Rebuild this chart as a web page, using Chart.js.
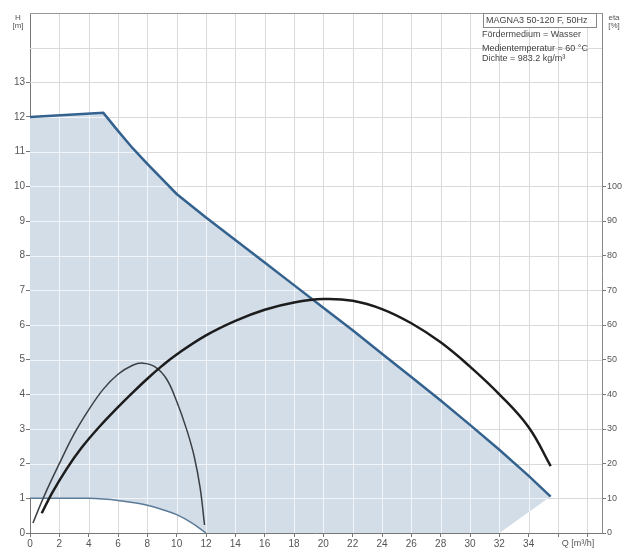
<!DOCTYPE html>
<html>
<head>
<meta charset="utf-8">
<script src="https://cdn.jsdelivr.net/npm/chart.js@4"></script>
<style>
    html, body { margin: 0; padding: 0; background: #fff; }
    canvas { display: block; }
</style>
</head>
<body>
<canvas id="pump-chart" width="626" height="557"></canvas>
<script>
// Pump curve data (Q in m3/h, H in m, eta in %)
const flowMax = [0, 5, 6, 7, 8, 10, 12, 14, 16, 18, 20, 22, 24, 26, 28, 30, 32, 34, 35.5];
const headMax = [12.0, 12.12, 11.6, 11.1, 10.65, 9.78, 9.1, 8.45, 7.8, 7.15, 6.5, 5.85, 5.17, 4.5, 3.82, 3.12, 2.4, 1.65, 1.05];

const flowMin = [0, 2, 4, 5, 6, 7, 8, 9, 10, 11, 12];
const headMin = [1.0, 1.0, 1.0, 0.98, 0.94, 0.88, 0.8, 0.68, 0.53, 0.3, 0];

// lower edge of the operating area
const flowBase = [0, 2, 4, 5, 6, 7, 8, 9, 10, 11, 12, 32, 35.5];
const headBase = [1.0, 1.0, 1.0, 0.98, 0.94, 0.88, 0.8, 0.68, 0.53, 0.3, 0, 0, 1.05];

const flowEtaSmall = [0.2, 1, 2, 3, 4, 5, 6, 7, 7.7, 8.5, 9.3, 10, 10.7, 11.2, 11.6, 11.9];
const etaSmall = [2.9, 11, 20, 28.5, 35.5, 41.5, 45.8, 48.4, 49, 48, 44.5, 38, 29.6, 22, 13, 2.3];

const flowEtaLarge = [0.8, 1.5, 2.5, 3.5, 4.7, 6, 7, 8, 9, 10, 12, 14, 16, 18, 20, 22, 24, 26, 28, 30, 32, 34, 35.5];
const etaLarge = [5.7, 11.5, 18.5, 24.5, 30.5, 36.3, 40.5, 44.5, 48.2, 51.5, 57, 61.2, 64.4, 66.5, 67.5, 67, 64.6, 60.5, 55, 48, 40, 30.5, 19.3];

const xTickLabels = [0, 2, 4, 6, 8, 10, 12, 14, 16, 18, 20, 22, 24, 26, 28, 30, 32, 34];
const yTickLabels = [0, 1, 2, 3, 4, 5, 6, 7, 8, 9, 10, 11, 12, 13];
const etaTickLabels = [0, 10, 20, 30, 40, 50, 60, 70, 80, 90, 100];

const infoTitle = 'MAGNA3 50-120 F, 50Hz';
const infoLines = ['Fördermedium = Wasser', 'Medientemperatur = 60 °C', 'Dichte = 983.2 kg/m³'];

const toPoints = (xs, ys) => xs.map((x, i) => ({ x: x, y: ys[i] }));

const FONT = '"Liberation Sans", Arial, sans-serif';
const AREA_INDEX = 1;

// grid: whitish over the shaded area, grey on white
const gridPlugin = {
    id: 'pumpGrid',
    afterDatasetDraw(chart, args) {
        if (args.index !== AREA_INDEX) return;
        const ctx = chart.ctx;
        const area = chart.chartArea;
        const xs = chart.scales.x;
        const ys = chart.scales.y;
        const drawLines = () => {
            ctx.beginPath();
            for (let q = 2; q <= 38; q += 2) {
                const px = Math.round(xs.getPixelForValue(q)) + 0.5;
                ctx.moveTo(px, area.top);
                ctx.lineTo(px, area.bottom);
            }
            for (let h = 1; h <= 14; h++) {
                const py = Math.round(ys.getPixelForValue(h)) + 0.5;
                ctx.moveTo(area.left, py);
                ctx.lineTo(area.right, py);
            }
            ctx.stroke();
        };
        ctx.save();
        ctx.lineWidth = 1;
        ctx.globalCompositeOperation = 'source-atop';
        ctx.strokeStyle = 'rgba(255, 255, 255, 0.7)';
        drawLines();
        ctx.globalCompositeOperation = 'destination-over';
        ctx.strokeStyle = '#dadada';
        drawLines();
        ctx.restore();
    },
    afterDraw(chart) {
        const ctx = chart.ctx;
        const area = chart.chartArea;
        ctx.save();

        // top frame
        ctx.strokeStyle = '#9a9a9a';
        ctx.lineWidth = 1;
        ctx.beginPath();
        ctx.moveTo(area.left, area.top + 0.5);
        ctx.lineTo(area.right, area.top + 0.5);
        ctx.stroke();

        // info box
        ctx.fillStyle = '#fff';
        ctx.fillRect(483, 13, 114, 14);
        ctx.strokeStyle = '#888';
        ctx.strokeRect(483.5, 13.5, 113, 14);
        ctx.fillStyle = '#444';
        ctx.font = '9px ' + FONT;
        ctx.textBaseline = 'middle';
        ctx.textAlign = 'left';
        ctx.fillText(infoTitle, 486, 21);
        const lineY = [35, 49, 59];
        infoLines.forEach((t, i) => ctx.fillText(t, 482, lineY[i]));

        // axis titles
        ctx.fillStyle = '#555';
        ctx.font = '8px ' + FONT;
        ctx.textAlign = 'center';
        ctx.fillText('H', 18, 18);
        ctx.fillText('[m]', 18, 26);
        ctx.fillText('eta', 614, 18);
        ctx.fillText('[%]', 614, 26);
        ctx.font = '9px ' + FONT;
        ctx.fillText('Q [m³/h]', 578, 544);
        ctx.restore();
    }
};

const ctx = document.getElementById('pump-chart').getContext('2d');

new Chart(ctx, {
    type: 'line',
    data: {
        datasets: [
            {
                label: 'Max',
                data: toPoints(flowMax, headMax),
                borderColor: '#34628f',
                borderWidth: 2.5,
                fill: false,
                pointRadius: 0,
                tension: 0,
                order: 2
            },
            {
                label: 'Area',
                data: toPoints(flowMax, headMax),
                borderWidth: 0,
                borderColor: 'rgba(0,0,0,0)',
                backgroundColor: '#d3dde8',
                fill: 2,
                pointRadius: 0,
                tension: 0,
                order: 5
            },
            {
                label: 'Base',
                data: toPoints(flowBase, headBase),
                borderWidth: 0,
                borderColor: 'rgba(0,0,0,0)',
                fill: false,
                pointRadius: 0,
                tension: 0,
                order: 6
            },
            {
                label: 'Min',
                data: toPoints(flowMin, headMin),
                borderColor: '#5b7b98',
                borderWidth: 1.5,
                fill: false,
                pointRadius: 0,
                tension: 0.4,
                order: 3
            },
            {
                label: 'Eta min',
                data: toPoints(flowEtaSmall, etaSmall),
                yAxisID: 'y2',
                borderColor: '#3b4045',
                borderWidth: 1.5,
                fill: false,
                pointRadius: 0,
                tension: 0.4,
                order: 1
            },
            {
                label: 'Eta max',
                data: toPoints(flowEtaLarge, etaLarge),
                yAxisID: 'y2',
                borderColor: '#1c1c1c',
                borderWidth: 2.5,
                fill: false,
                pointRadius: 0,
                tension: 0.4,
                order: 0
            }
        ]
    },
    options: {
        responsive: false,
        animation: false,
        layout: { padding: { top: 13, left: 0, right: 0, bottom: 0 } },
        plugins: {
            legend: { display: false },
            tooltip: { enabled: false }
        },
        scales: {
            x: {
                type: 'linear',
                min: 0,
                max: 39,
                afterFit: s => { s.height = 24; },
                afterBuildTicks: s => { s.ticks = Array.from({ length: 20 }, (_, i) => ({ value: i * 2 })); },
                ticks: {
                    color: '#555',
                    font: { family: FONT, size: 10 },
                    padding: 1,
                    maxRotation: 0,
                    autoSkip: false,
                    callback: v => xTickLabels.includes(v) ? String(v) : ''
                },
                grid: { drawOnChartArea: false, drawTicks: true, tickLength: 4, color: '#777' },
                border: { color: '#777' }
            },
            y: {
                position: 'left',
                min: 0,
                max: 15,
                afterFit: s => { s.width = 30; },
                afterBuildTicks: s => { s.ticks = yTickLabels.map(v => ({ value: v })); },
                ticks: {
                    color: '#555',
                    font: { family: FONT, size: 10 },
                    padding: 1,
                    autoSkip: false
                },
                grid: { drawOnChartArea: false, drawTicks: true, tickLength: 4, color: '#777' },
                border: { color: '#777' }
            },
            y2: {
                position: 'right',
                min: 0,
                max: 150,
                afterFit: s => { s.width = 24; },
                afterBuildTicks: s => { s.ticks = etaTickLabels.map(v => ({ value: v })); },
                ticks: {
                    color: '#555',
                    font: { family: FONT, size: 9 },
                    padding: 1,
                    autoSkip: false
                },
                grid: { drawOnChartArea: false, drawTicks: true, tickLength: 4, color: '#777' },
                border: { color: '#888' }
            }
        }
    },
    plugins: [gridPlugin]
});
</script>
</body>
</html>
